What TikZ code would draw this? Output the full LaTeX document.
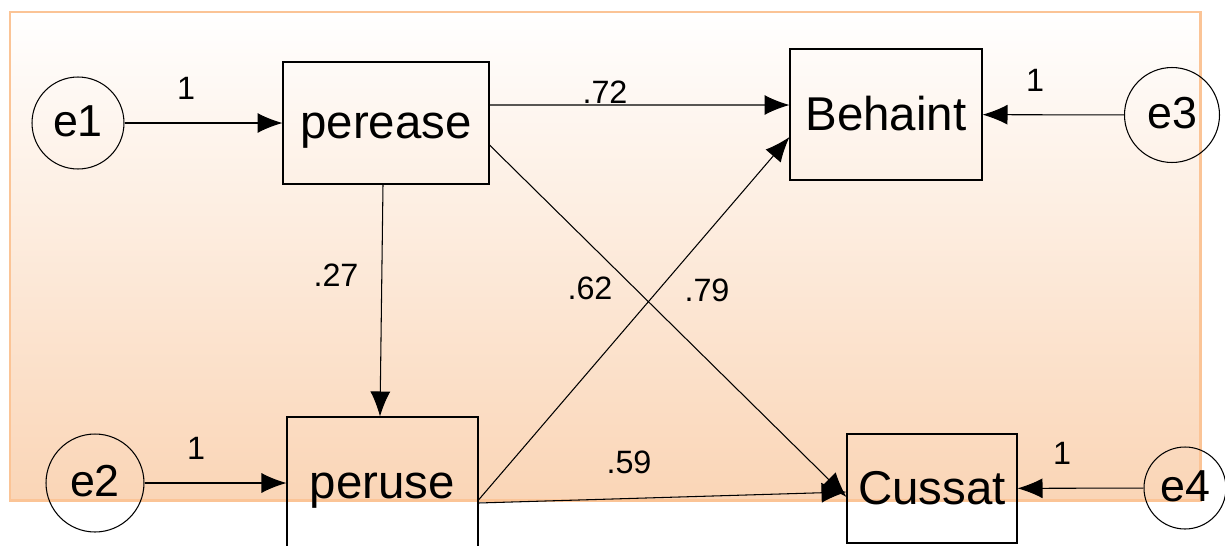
\documentclass[tikz,border=0pt]{standalone}
\usepackage{fontspec}
\setmainfont{Liberation Sans}
\usepackage{xcolor}
\usetikzlibrary{arrows.meta}

\definecolor{peach}{RGB}{250,213,182}
\definecolor{peachline}{RGB}{251,196,150}

\tikzset{
    varbox/.style={draw, rectangle, line width=0.6pt, inner sep=0pt,
        font=\fontsize{27}{30}\selectfont, text height=23.5pt, text depth=5.4pt},
    errvar/.style={draw, circle, line width=0.6pt, inner sep=0pt,
        font=\fontsize{25.5}{28}\selectfont, text height=20pt, text depth=5pt},
    coef/.style={inner sep=0pt, font=\fontsize{18.4}{20}\selectfont},
    link/.style={-{Latex[length=5mm,width=4mm]}, line width=0.6pt}
}

\begin{document}
\begin{tikzpicture}[x=0.02cm, y=-0.02cm]
        \useasboundingbox (0,0) rectangle (1225,545);
        \clip (0,0) rectangle (1225,545);
        % shaded panel behind the model
        \draw[line width=1.7pt, peachline, top color=white, bottom color=peach]
            (10,12) rectangle (1200,500);

        % observed variables
        \node[varbox, minimum width=4.12cm, minimum height=2.44cm] (perease) at (386,123) {perease};
        \node[varbox, minimum width=3.82cm, minimum height=2.64cm] (peruse) at (382.5,483) {peruse};
        \node[varbox, minimum width=3.84cm, minimum height=2.62cm] (Behaint) at (886,114.5) {Behaint};
        \node[varbox, minimum width=3.4cm, minimum height=2.18cm] (Cussat) at (932,488.5) {Cussat};

        % error terms
        \node[errvar, minimum size=1.84cm] (e1) at (78,123) {e1};
        \node[errvar, minimum size=1.96cm] (e2) at (95,483) {e2};
        \node[errvar, minimum size=1.9cm] (e3) at (1172,115) {e3};
        \node[errvar, minimum size=1.64cm] (e4) at (1185,488) {e4};

        \draw[link] (e1) -- (perease);
        \draw[link] (e2) -- (peruse);
        \draw[link] (e3) -- (Behaint);
        \draw[link] (e4) -- (Cussat);

        % structural paths
        \draw[link] ([yshift=0.36cm]perease.east) -- ([yshift=0.19cm]Behaint.west);
        \draw[link] ([yshift=-0.44cm]perease.east) -- ([yshift=-0.17cm]Cussat.west);
        \draw[link] ([xshift=-0.06cm]perease.south) -- ([xshift=-0.05cm]peruse.north);
        \draw[link] ([yshift=-0.34cm]peruse.east) -- ([yshift=-0.45cm]Behaint.west);
        \draw[link] ([yshift=-0.40cm]peruse.east) -- ([yshift=-0.07cm]Cussat.west);

        % weights
        \node[coef] (w1a) at (186,88) {1};
        \node[coef] (w1b) at (196,448) {1};
        \node[coef] (w1c) at (1035,80) {1};
        \node[coef] (w1d) at (1062,453) {1};
        \node[coef] (w72) at (605,92) {.72};
        \node[coef] (w27) at (336,275) {.27};
        \node[coef] (w62) at (590,288) {.62};
        \node[coef] (w79) at (707,290) {.79};
        \node[coef] (w59) at (629,462) {.59};
    \end{tikzpicture}
\end{document}
